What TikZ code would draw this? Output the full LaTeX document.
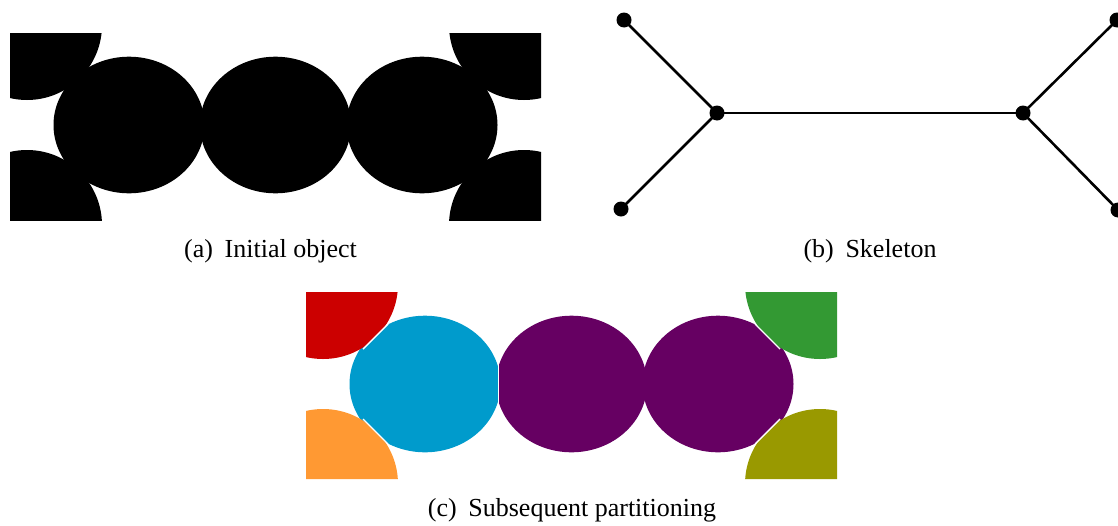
\documentclass[tikz,border=0pt]{standalone}
\usepackage{fontspec}
\setmainfont{Liberation Serif}
\definecolor{cred}{RGB}{204,0,0}
\definecolor{cblue}{RGB}{0,155,204}
\definecolor{cpurple}{RGB}{102,0,98}
\definecolor{corange}{RGB}{255,153,51}
\definecolor{cgreen}{RGB}{51,153,51}
\definecolor{colive}{RGB}{153,153,0}
\begin{document}
\begin{tikzpicture}[x=1pt,y=-1pt,
  dotnode/.style={circle,fill=black,inner sep=0pt,minimum size=15pt},
  skel/.style={line width=2.6pt,black},
  capt/.style={anchor=base,inner sep=0pt,font=\fontsize{26}{30}\selectfont},
  sep/.style={white,line width=1.4pt}]
\useasboundingbox (0,0) rectangle (1118,525);
% ---------- (a) initial object ----------
\begin{scope}
  \clip (10,33) rectangle (541,220);
  \fill[black] (27,25) circle[radius=75pt];
  \fill[black] (524,25) circle[radius=75pt];
  \fill[black] (27,225) circle[radius=75pt];
  \fill[black] (524,225) circle[radius=75pt];
  \fill[black] (129,125) ellipse[x radius=75.5pt,y radius=68.3pt];
  \fill[black] (275.5,125) ellipse[x radius=75.5pt,y radius=68.3pt];
  \fill[black] (422,125) ellipse[x radius=75.5pt,y radius=68.3pt];
\end{scope}
\node[capt] (capa) at (270.5,257) {(a)\hspace{0.45em}Initial object};
% ---------- (b) skeleton ----------
\node[dotnode] (tl) at (624,20) {};
\node[dotnode] (bl) at (621,209) {};
\node[dotnode] (jl) at (717,113) {};
\node[dotnode] (jr) at (1023,113) {};
\node[dotnode] (tr) at (1117,20) {};
\node[dotnode] (br) at (1118,210) {};
\draw[skel] (tl.center) -- (jl.center);
\draw[skel] (bl.center) -- (jl.center);
\draw[skel] (jl.center) -- (jr.center);
\draw[skel] (jr.center) -- (tr.center);
\draw[skel] (jr.center) -- (br.center);
\node[capt] (capb) at (870,257) {(b)\hspace{0.45em}Skeleton};
% ---------- (c) subsequent partitioning ----------
\begin{scope}[shift={(296,259)}]
  \begin{scope}
    \clip (10,33) rectangle (541,220);
    \fill[cpurple] (275.5,125) ellipse[x radius=75.5pt,y radius=68.3pt];
    \fill[cpurple] (422,125) ellipse[x radius=75.5pt,y radius=68.3pt];
    \begin{scope}
      \clip (0,0) rectangle (202.2,250);
      \fill[cblue] (129,125) ellipse[x radius=75.5pt,y radius=68.3pt];
    \end{scope}
    \begin{scope}
      \clip (10,33) -- (124,33) -- (10,147) -- cycle;
      \fill[cred] (27,25) circle[radius=75pt];
    \end{scope}
    \begin{scope}
      \clip (10,220) -- (127,220) -- (10,103) -- cycle;
      \fill[corange] (27,225) circle[radius=75pt];
    \end{scope}
    \begin{scope}
      \clip (541,33) -- (427,33) -- (541,147) -- cycle;
      \fill[cgreen] (524,25) circle[radius=75pt];
    \end{scope}
    \begin{scope}
      \clip (541,220) -- (424,220) -- (541,103) -- cycle;
      \fill[colive] (524,225) circle[radius=75pt];
    \end{scope}
  \end{scope}
  \draw[sep] (92,65) -- (67,90);
  \draw[sep] (92,185) -- (67,160);
  \draw[sep] (459,65) -- (484,90);
  \draw[sep] (459,185) -- (484,160);
  \draw[sep] (202.2,105) -- (202.2,145);
\end{scope}
\node[capt] (capc) at (572,516) {(c)\hspace{0.45em}Subsequent partitioning};
\end{tikzpicture}
\end{document}
